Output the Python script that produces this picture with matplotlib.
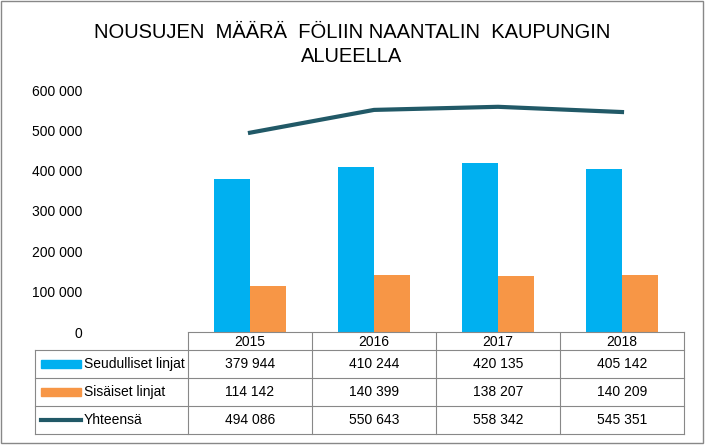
import matplotlib.pyplot as plt
from matplotlib.patches import Rectangle

plt.rcParams["font.family"] = "Liberation Sans"

YEARS = ["2015", "2016", "2017", "2018"]
SEUDULLISET = [379944, 410244, 420135, 405142]
SISAISET = [114142, 140399, 138207, 140209]
YHTEENSA = [494086, 550643, 558342, 545351]
Y_TICKS = [0, 100000, 200000, 300000, 400000, 500000, 600000]

BLUE = "#00B0F0"
ORANGE = "#F79646"
TEAL = "#215967"
W, H = 705, 445


def fmt(v):
    return f"{v:,}".replace(",", " ")


fig = plt.figure(figsize=(W / 100, H / 100), dpi=100)

# pixel-coordinate overlay for frame and table
ov = fig.add_axes([0, 0, 1, 1])
ov.set_xlim(0, W)
ov.set_ylim(H, 0)
ov.axis("off")
ov.add_patch(Rectangle((1, 1), W - 3, H - 3, fill=False, ec="#888888", lw=1))

ax = fig.add_axes([188 / W, (H - 332) / H, (684 - 188) / W, 242 / H])
x = list(range(len(YEARS)))
bw = 0.29
ax.bar([i - bw / 2 for i in x], SEUDULLISET, bw, color=BLUE)
ax.bar([i + bw / 2 for i in x], SISAISET, bw, color=ORANGE)
ax.plot(x, YHTEENSA, color=TEAL, lw=3)
ax.set_xlim(-0.5, 3.5)
ax.set_ylim(0, 600000)
ax.set_yticks(Y_TICKS)
ax.set_yticklabels([fmt(v) for v in Y_TICKS], fontsize=10)
ax.tick_params(axis="y", length=0, pad=76)
ax.set_xticks([])
for s in ["top", "right", "left"]:
    ax.spines[s].set_visible(False)
ax.spines["bottom"].set_color("#888888")

ov.text(352, 32, "NOUSUJEN  MÄÄRÄ  FÖLIIN NAANTALIN  KAUPUNGIN", ha="center",
        va="center", fontsize=14.5)
ov.text(352, 56, "ALUEELLA", ha="center", va="center", fontsize=14.5)

# data table
cols = [188, 312, 436, 560, 684]
rows = [350, 378, 406, 434]
lc = "#888888"
for cx in cols:
    ov.plot([cx, cx], [332, 434], color=lc, lw=0.8)
ov.plot([35, 35], [350, 434], color=lc, lw=0.8)
for ry in rows:
    ov.plot([35, 684], [ry, ry], color=lc, lw=0.8)
for i, y in enumerate(YEARS):
    ov.text((cols[i] + cols[i + 1]) / 2, 342, y, ha="center", va="center", fontsize=10)

series = [("Seudulliset linjat", SEUDULLISET, "bar", BLUE),
          ("Sisäiset linjat", SISAISET, "bar", ORANGE),
          ("Yhteensä", YHTEENSA, "line", TEAL)]
for r, (name, vals, kind, col) in enumerate(series):
    cy = (rows[r] + rows[r + 1]) / 2
    if kind == "bar":
        ov.add_patch(Rectangle((41, cy - 4), 40, 8, color=col))
    else:
        ov.plot([41, 81], [cy, cy], color=col, lw=3)
    ov.text(84, cy, name, ha="left", va="center", fontsize=10)
    for i, v in enumerate(vals):
        ov.text((cols[i] + cols[i + 1]) / 2, cy, fmt(v), ha="center",
                va="center", fontsize=10)

fig.savefig("out.png", dpi=100)
